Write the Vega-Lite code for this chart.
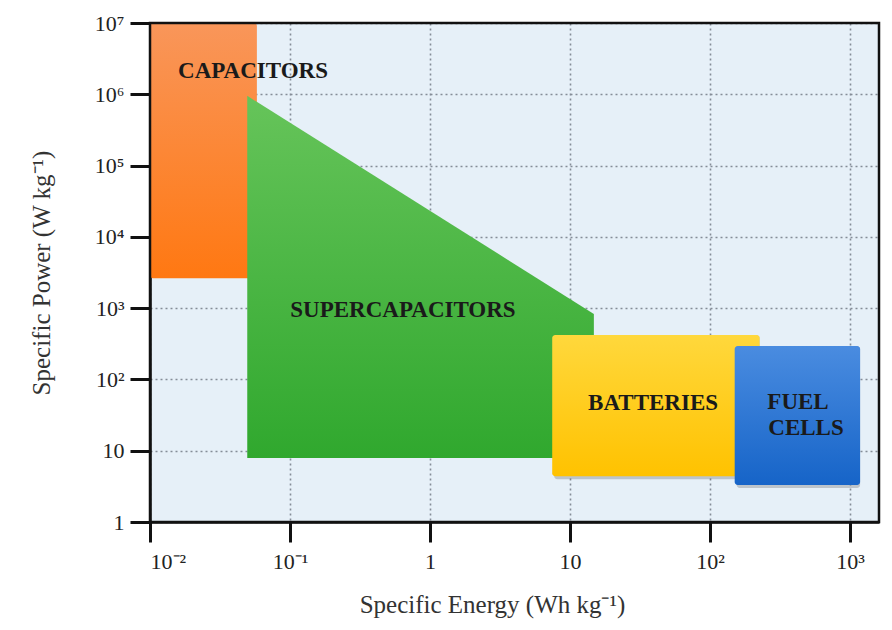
{
  "$schema": "https://vega.github.io/schema/vega-lite/v6.json",
  "width": 729,
  "height": 499,
  "autosize": {"type": "none"},
  "padding": {"left": 150, "top": 23, "right": 13, "bottom": 108},
  "background": "#ffffff",
  "config": {
    "view": {"fill": "#e6f0f8", "stroke": null},
    "axis": {
      "grid": true,
      "gridDash": [2, 3],
      "gridColor": "#858d98",
      "gridWidth": 1.6,
      "domainColor": "#111111",
      "domainWidth": 2.5,
      "tickColor": "#111111",
      "tickWidth": 3,
      "tickSize": 20,
      "labelFont": "Liberation Serif",
      "labelFontSize": 22,
      "labelColor": "#222222",
      "titleFont": "Liberation Serif",
      "titleFontSize": 25,
      "titleFontWeight": "normal",
      "titleColor": "#333333"
    }
  },
  "datasets": {
    "rects": [
      {"name": "CAPACITORS", "e1": 0.01, "e2": 0.058, "p1": 2630, "p2": 10000000},
      {"name": "BATTERIES", "e1": 7.46, "e2": 226, "p1": 4.4, "p2": 421},
      {"name": "FUEL CELLS", "e1": 150, "e2": 1180, "p1": 3.3, "p2": 295}
    ],
    "super": [
      {"e": 0.0495, "top": 950000, "bottom": 7.9},
      {"e": 14.8, "top": 830, "bottom": 7.9}
    ],
    "labels": [
      {"text": "CAPACITORS", "e": 0.0544, "p": 2120000},
      {"text": "SUPERCAPACITORS", "e": 0.641, "p": 944},
      {"text": "BATTERIES", "e": 39.2, "p": 46.8},
      {"text": "FUEL", "e": 425, "p": 48},
      {"text": "CELLS", "e": 485, "p": 20.5}
    ],
    "frame": [
      {"e1": 0.01, "e2": 1610, "p1": 1, "p2": 10000000}
    ]
  },
  "encoding": {
    "x": {
      "field": "e",
      "type": "quantitative",
      "scale": {"type": "log", "domain": [0.01, 1610], "nice": false},
      "axis": {
        "title": "Specific Energy (Wh kg⁻¹)",
        "values": [0.01, 0.1, 1, 10, 100, 1000],
        "labelExpr": "datum.value < 0.015 ? '10⁻²' : datum.value < 0.15 ? '10⁻¹' : datum.value < 1.5 ? '1' : datum.value < 15 ? '10' : datum.value < 150 ? '10²' : '10³'",
        "labelPadding": 9,
        "titlePadding": 20,
        "titleX": 342
      }
    },
    "y": {
      "field": "p",
      "type": "quantitative",
      "scale": {"type": "log", "domain": [1, 10000000], "nice": false},
      "axis": {
        "title": "Specific Power (W kg⁻¹)",
        "values": [1, 10, 100, 1000, 10000, 100000, 1000000, 10000000],
        "labelExpr": "datum.value < 1.5 ? '1' : datum.value < 15 ? '10' : '10' + (datum.value < 150 ? '²' : datum.value < 1500 ? '³' : datum.value < 15000 ? '⁴' : datum.value < 150000 ? '⁵' : datum.value < 1500000 ? '⁶' : '⁷')",
        "labelPadding": 6,
        "titlePadding": 40
      }
    }
  },
  "layer": [
    {
      "data": {"name": "rects"},
      "transform": [{"filter": "datum.name == 'CAPACITORS'"}],
      "mark": {"type": "rect", "cornerRadius": 3, "fill": {"gradient": "linear", "x1": 0, "y1": 0, "x2": 0, "y2": 1, "stops": [{"offset": 0, "color": "#f9965a"}, {"offset": 1, "color": "#ff7812"}]}},
      "encoding": {
        "x": {"field": "e1", "type": "quantitative"},
        "x2": {"field": "e2"},
        "y": {"field": "p1", "type": "quantitative"},
        "y2": {"field": "p2"}
      }
    },
    {
      "data": {"name": "super"},
      "mark": {"type": "area", "fill": {"gradient": "linear", "x1": 0, "y1": 0, "x2": 0, "y2": 1, "stops": [{"offset": 0, "color": "#66c45a"}, {"offset": 1, "color": "#30a82e"}]}},
      "encoding": {
        "x": {"field": "e", "type": "quantitative"},
        "y": {"field": "top", "type": "quantitative"},
        "y2": {"field": "bottom"}
      }
    },
    {
      "data": {"name": "rects"},
      "transform": [{"filter": "datum.name != 'CAPACITORS'"}],
      "mark": {"type": "rect", "fill": "#000000", "opacity": 0.18, "xOffset": 2, "yOffset": 3, "cornerRadius": 3},
      "encoding": {
        "x": {"field": "e1", "type": "quantitative"},
        "x2": {"field": "e2"},
        "y": {"field": "p1", "type": "quantitative"},
        "y2": {"field": "p2"}
      }
    },
    {
      "data": {"name": "rects"},
      "transform": [{"filter": "datum.name == 'BATTERIES'"}],
      "mark": {"type": "rect", "cornerRadius": 3, "fill": {"gradient": "linear", "x1": 0, "y1": 0, "x2": 0, "y2": 1, "stops": [{"offset": 0, "color": "#ffd83c"}, {"offset": 1, "color": "#ffc200"}]}},
      "encoding": {
        "x": {"field": "e1", "type": "quantitative"},
        "x2": {"field": "e2"},
        "y": {"field": "p1", "type": "quantitative"},
        "y2": {"field": "p2"}
      }
    },
    {
      "data": {"name": "rects"},
      "transform": [{"filter": "datum.name == 'FUEL CELLS'"}],
      "mark": {"type": "rect", "cornerRadius": 3, "fill": {"gradient": "linear", "x1": 0, "y1": 0, "x2": 0, "y2": 1, "stops": [{"offset": 0, "color": "#4a8ce0"}, {"offset": 1, "color": "#1664c8"}]}},
      "encoding": {
        "x": {"field": "e1", "type": "quantitative"},
        "x2": {"field": "e2"},
        "y": {"field": "p1", "type": "quantitative"},
        "y2": {"field": "p2"}
      }
    },
    {
      "data": {"name": "labels"},
      "mark": {"type": "text", "font": "Liberation Serif", "fontWeight": "bold", "fontSize": 23, "fill": "#1a1a1a", "baseline": "middle", "align": "center"},
      "encoding": {
        "x": {"field": "e", "type": "quantitative"},
        "y": {"field": "p", "type": "quantitative"},
        "text": {"field": "text"}
      }
    },
    {
      "data": {"name": "frame"},
      "mark": {"type": "rect", "fill": null, "fillOpacity": 0, "stroke": "#111111", "strokeWidth": 2.5},
      "encoding": {
        "x": {"field": "e1", "type": "quantitative"},
        "x2": {"field": "e2"},
        "y": {"field": "p1", "type": "quantitative"},
        "y2": {"field": "p2"}
      }
    }
  ]
}
